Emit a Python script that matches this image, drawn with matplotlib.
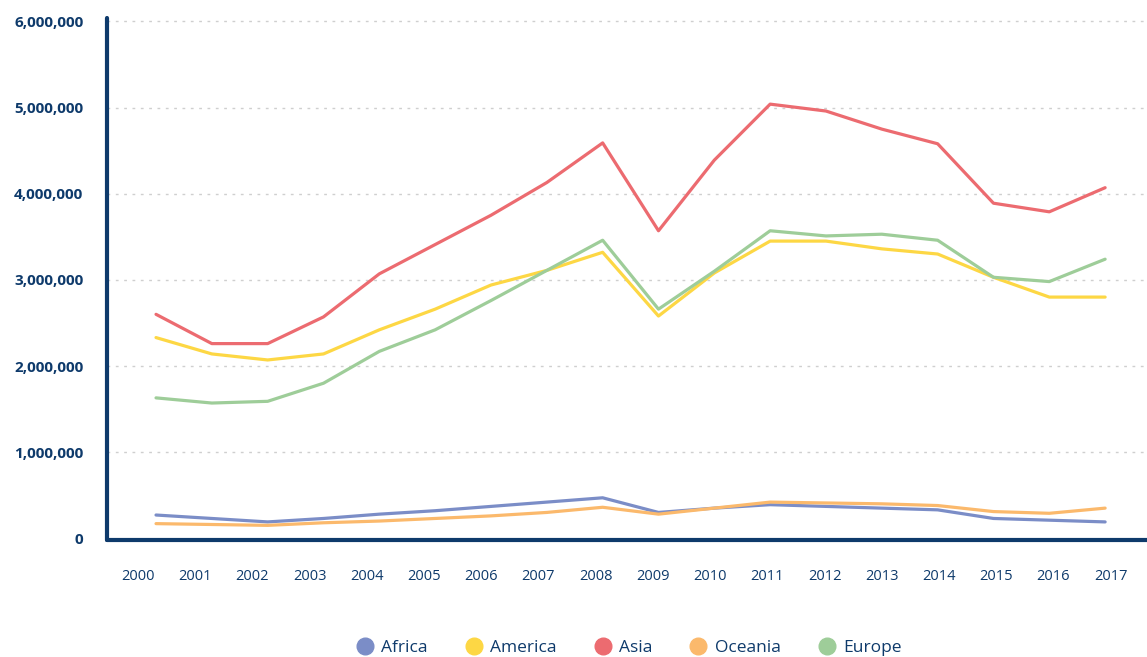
import matplotlib
matplotlib.use("Agg")
import matplotlib.pyplot as plt
from matplotlib.lines import Line2D
from matplotlib.ticker import FuncFormatter
import numpy as np

years = [str(y) for y in range(2000, 2018)]

africa = [0.27, 0.23, 0.19, 0.23, 0.28, 0.32, 0.37, 0.42, 0.47, 0.30,
          0.35, 0.39, 0.37, 0.35, 0.33, 0.23, 0.21, 0.19]
america = [2.33, 2.14, 2.07, 2.14, 2.42, 2.66, 2.94, 3.11, 3.32, 2.58,
           3.08, 3.45, 3.45, 3.36, 3.30, 3.03, 2.80, 2.80]
asia = [2.60, 2.26, 2.26, 2.57, 3.07, 3.41, 3.75, 4.13, 4.59, 3.57,
        4.39, 5.04, 4.96, 4.75, 4.58, 3.89, 3.79, 4.07]
oceania = [0.17, 0.16, 0.15, 0.18, 0.20, 0.23, 0.26, 0.30, 0.36, 0.28,
           0.35, 0.42, 0.41, 0.40, 0.38, 0.31, 0.29, 0.35]
europe = [1.63, 1.57, 1.59, 1.80, 2.17, 2.42, 2.76, 3.11, 3.46, 2.66,
          3.10, 3.57, 3.51, 3.53, 3.46, 3.03, 2.98, 3.24]

regions = ["Africa", "America", "Asia", "Oceania", "Europe"]
colors = ["#7b8dc7", "#fdd744", "#ec6b70", "#fbb96c", "#9ecd99"]
navy = "#0e3a6b"

plt.rcParams["font.family"] = ["Open Sans", "DejaVu Sans"]

fig = plt.figure(figsize=(11.47, 6.57), dpi=100)
ax = fig.add_axes([107 / 1147, 117 / 657, 1 - 107 / 1147, 522 / 657])

x = np.arange(len(years))
series = [africa, america, asia, oceania, europe]
# draw order: small ones first, then Asia, America, Europe
for idx in [0, 3, 1, 4, 2]:
    vals = np.array(series[idx]) * 1e6
    ax.plot(x, vals, color=colors[idx], lw=2.3, solid_capstyle="round",
            solid_joinstyle="round", zorder=3)

ax.set_xlim(-0.878, 17.75)
ax.set_ylim(-0.02e6, 6.04e6)

ax.set_yticks(np.arange(0, 7) * 1e6)
ax.yaxis.set_major_formatter(FuncFormatter(lambda v, p: f"{int(v):,}"))
for lbl in ax.get_yticklabels():
    lbl.set_fontweight("bold")

# the year labels sit on a slightly wider grid than the data points
tick_pos = (138 + 57.2 * x - 156) / 55.82
ax.set_xticks(tick_pos)
ax.set_xticklabels(years)

ax.tick_params(axis="y", length=0, pad=17, labelsize=11, labelcolor=navy)
ax.tick_params(axis="x", length=0, pad=21, labelsize=10.5, labelcolor=navy)

for v in range(1, 7):
    ax.axhline(v * 1e6, color="#cfcfcf", lw=1, ls=(0, (2, 4)), zorder=1)

for side in ["top", "right"]:
    ax.spines[side].set_visible(False)
for side in ["left", "bottom"]:
    ax.spines[side].set_color(navy)
    ax.spines[side].set_linewidth(3)
    ax.spines[side].set_capstyle("round")

handles = [Line2D([], [], ls="", marker="o", ms=12, color=c) for c in colors]
fig.legend(handles, regions, loc="center", bbox_to_anchor=(628 / 1147, 1 - 648 / 657),
           ncol=5, frameon=False, fontsize=12.5, labelcolor=navy,
           handletextpad=0.35, columnspacing=2.05, handlelength=1.2)

fig.savefig("out.png", dpi=100)
